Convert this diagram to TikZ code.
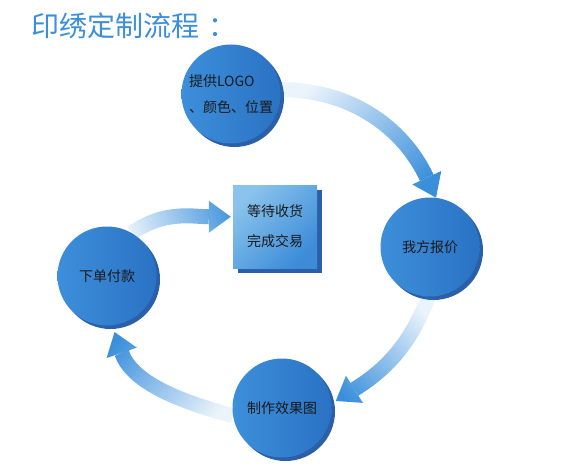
\documentclass[tikz,border=0pt]{standalone}
\usepackage{fontspec}
\setmainfont{Noto Sans CJK SC}
\usepackage{xcolor}
\usepackage{tikz}
\usetikzlibrary{arrows.meta,fadings,shadows}

\definecolor{titleblue}{HTML}{3B8EDB}
\definecolor{flowblue}{HTML}{3A8FDB}
\definecolor{faceL}{HTML}{3D8FDA}
\definecolor{faceM}{HTML}{4A9DE1}
\definecolor{faceR}{HTML}{2A72C4}
\definecolor{rimblue}{HTML}{2B5FA8}
\definecolor{boxL}{HTML}{8AC3EC}
\definecolor{boxR}{HTML}{3C8CD8}
\definecolor{ink}{HTML}{1A1A1A}

\tikzfading[name=tailfade,left color=transparent!90,right color=transparent!0]

\begin{document}
\begin{tikzpicture}[x=1pt,y=1pt,line join=round,
  disc/.style={circle,minimum size=99pt,inner sep=0pt,
    left color=faceL,middle color=faceM,right color=faceR,
    drop shadow={shadow xshift=3.5pt,shadow yshift=-3.5pt,fill=rimblue,opacity=1},
    text=ink,font=\fontsize{14}{26}\selectfont},
  card/.style={rectangle,minimum width=84pt,minimum height=83pt,inner sep=0pt,
    top color=boxL,bottom color=boxR,shading angle=45,
    drop shadow={shadow xshift=5pt,shadow yshift=-5pt,fill=rimblue,opacity=1},
    text=ink,align=center,font=\fontsize{14}{30}\selectfont},
  flow/.style={line width=15pt,flowblue,
    -{Triangle[width=32pt,length=22pt,line width=0pt]},
    path fading=tailfade}]
  \useasboundingbox (0,0) rectangle (564,467);
  \node[anchor=west,inner sep=0pt,text=titleblue,font=\fontsize{28}{28}\selectfont] (TITLE) at (31,441.5) {印绣定制流程\kern9pt：};
  \node[disc,align=left] (LOGO) at (231,373) {提供LOGO\\、颜色、位置};
  \node[disc] (QUOTE) at (430,220) {我方报价};
  \node[disc] (SAMPLE) at (282,59) {制作效果图};
  \node[disc] (PAY) at (107,191) {下单付款};
  \node[card] (DONE) at (275,240.5) {等待收货\\完成交易};
  \draw[flow,fading angle=-36] (LOGO.5) to[out=0,in=115] (QUOTE.83);
  \draw[flow,fading angle=-133,shorten >=5pt] (QUOTE.-92) to[out=-110,in=32] (SAMPLE.5);
  \draw[flow,fading angle=145,shorten >=7pt] (SAMPLE.189) to[out=165,in=-71] (PAY.-84);
  \draw[flow,fading angle=7,shorten >=2pt] (PAY.60) to[out=35,in=180] (DONE.167);
\end{tikzpicture}
\end{document}
